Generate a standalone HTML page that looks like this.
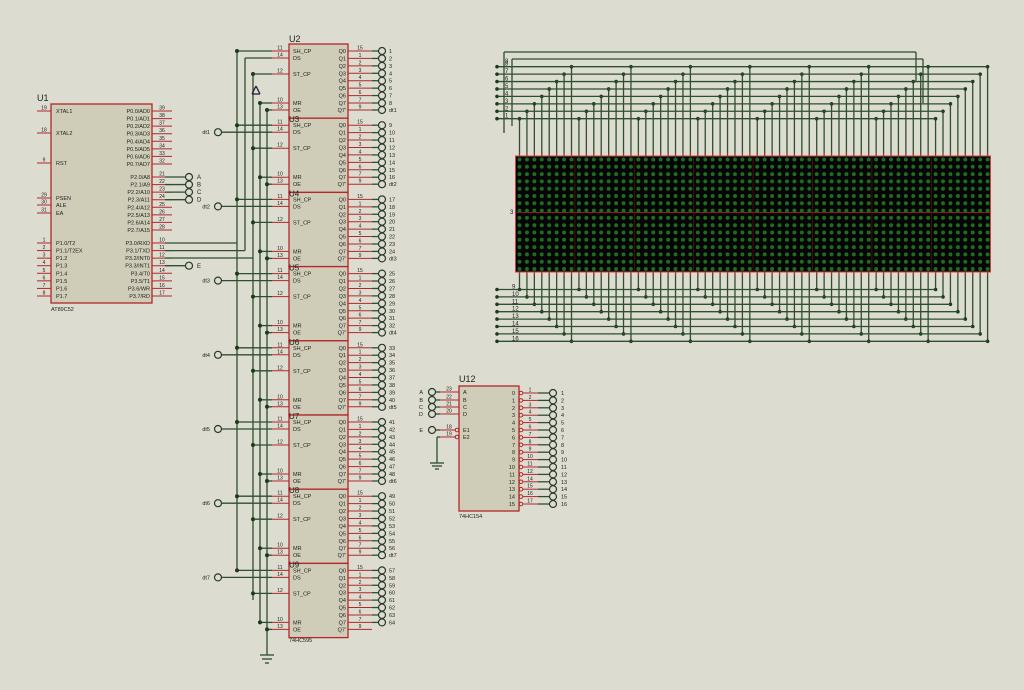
<!DOCTYPE html>
<html><head><meta charset="utf-8"><style>
html,body{margin:0;padding:0;background:#dddcd0;}
svg{display:block;font-family:"Liberation Sans",sans-serif;}
</style></head><body>
<svg id="s" width="1024" height="690" xmlns="http://www.w3.org/2000/svg"></svg>
<script>
var s=document.getElementById('s'),o='';
var W='#2d4f2d',R='#b3262a';
function L(x1,y1,x2,y2,c,w){o+='<line x1="'+x1+'" y1="'+y1+'" x2="'+x2+'" y2="'+y2+'" stroke="'+(c||W)+'" stroke-width="'+(w||1.3)+'"/>';}
function T(x,y,t,sz,a,c){o+='<text x="'+x+'" y="'+y+'" font-size="'+(sz||6)+'" fill="'+(c||'#222')+'"'+(a?' text-anchor="'+a+'"':'')+'>'+t+'</text>';}
function D(x,y,r,c){o+='<circle cx="'+x+'" cy="'+y+'" r="'+(r||2)+'" fill="'+(c||'#1c3a1c')+'"/>';}
function C(x,y){o+='<circle cx="'+x+'" cy="'+y+'" r="3.5" fill="none" stroke="#2a3a2a" stroke-width="1.2"/>';}
function B(x,y,w,h){o+='<rect x="'+x+'" y="'+y+'" width="'+w+'" height="'+h+'" fill="#cfcdb8" stroke="'+R+'" stroke-width="1.3"/>';}
// U1
B(51,104,101,199);T(37,101,'U1',9);T(51,311,'AT89C52',5.5);
var lp=[[111,19,'XTAL1'],[133,18,'XTAL2'],[163,9,'RST'],[198,29,'PSEN'],[205,30,'ALE'],[213,31,'EA']];
for(var i=0;i<8;i++)lp.push([243+i*7.57,i+1,['P1.0/T2','P1.1/T2EX','P1.2','P1.3','P1.4','P1.5','P1.6','P1.7'][i]]);
lp.forEach(function(p){L(37,p[0],51,p[0],R,1);T(44,p[0]-1.5,p[1],5,'middle');T(56,p[0]+2,p[2],5.5);});
var rp=[];
for(i=0;i<8;i++){rp.push([111+i*7.57,39-i,'P0.'+i+'/AD'+i]);rp.push([177+i*7.57,21+i,'P2.'+i+'/A'+(8+i)]);rp.push([243+i*7.57,10+i,['P3.0/RXD','P3.1/TXD','P3.2/INT0','P3.3/INT1','P3.4/T0','P3.5/T1','P3.6/WR','P3.7/RD'][i]]);}
rp.forEach(function(p){L(152,p[0],172,p[0],R,1);T(162,p[0]-1.5,p[1],5,'middle');T(150,p[0]+2,p[2],5.5,'end');});
['A','B','C','D'].forEach(function(n,i){var y=177+i*7.57;L(165,y,186,y);C(189,y);T(197,y+2,n,6);});
L(165,265.7,186,265.7);C(189,265.7);T(197,268,'E',6);
// bus from P3
L(165,243,237,243);L(237,51,237,570);
L(165,250.6,245,250.6);L(245,58,245,250.6);
L(165,258,253,258);L(253,74,253,600);
L(260,103,260,622);L(267,110,267,655);
L(260,655,274,655);L(262,659,272,659);L(265,663,269,663);
// U2 chips
var names=['U2','U3','U4','U5','U6','U7','U8','U9'];
for(var k=0;k<8;k++){
 var t=44+k*74.2;B(289,t,59,74.2);
 if(k==0)T(289,t-2,'U2',9);
 var pl=[[7,11,'SH_CP'],[14,14,'DS'],[30,12,'ST_CP'],[59,10,'MR'],[66,13,'OE']];
 pl.forEach(function(p){var y=t+p[0];L(272,y,289,y,R,1);T(280,y-1.5,p[1],5,'middle');T(293,y+2,p[2],5.5);});
 L(237,t+7,272,t+7);D(237,t+7);
 if(k==0){L(245,t+14,272,t+14);}else{L(222,t+14,272,t+14);C(218,t+14);T(210,t+16,'dt'+k,5.5,'end');}
 L(253,t+30,272,t+30);D(253,t+30);
 L(260,t+59,272,t+59);D(260,t+59);
 L(267,t+66,272,t+66);D(267,t+66);
 for(i=0;i<9;i++){var y=t+7+i*(i<8?7.43:7.4);if(i==8)y=t+66;
  L(348,y,372,y,R,1);T(360,y-1.5,[15,1,2,3,4,5,6,7,9][i],5,'middle');T(346,y+2,i<8?'Q'+i:"Q7'",5.5,'end');
  if(k==7&&i==8)continue;
  L(372,y,379,y);C(382,y);T(389,y+2,i<8?(k*8+i+1):'dt'+(k+1),5.5);}
 if(k>0)T(289,t+4,names[k],8);
}
T(289,642,'74HC595',5.5);
L(256,86,260,94,'#223');L(256,86,252,94,'#223');L(252,94,260,94,'#223');
// LED matrix
var X0=519.5,PX=7.43;
for(i=0;i<64;i++){var x=X0+i*PX,j=i%8;
 var yt=118.7-j*7.43;L(x,yt,x,156);D(x,yt,1.8);
 var yb=289.5+j*7.4;L(x,272,x,yb);D(x,yb,1.8);
 L(x,152,x,156,R,0.8);L(x,272,x,276,R,0.8);}
for(j=0;j<8;j++){var yt=118.7-j*7.43,xe=X0+(56+j)*PX;L(497,yt,xe,yt);D(497,yt,1.8);T(505,yt-1,j+1,6);
 var yb=289.5+j*7.4;L(497,yb,xe,yb);D(497,yb,1.8);T(512,yb-1,j+9,6);}
L(504,52,916,52);L(504,52,504,133);L(916,52,916,81);
L(512,59,923,59);L(512,59,512,126);L(923,59,923,103);
T(505,63,'8',6);
o+='<rect x="515.5" y="156" width="475" height="116" fill="#050505" stroke="#d04040" stroke-width="1"/>';
for(var r=0;r<16;r++)for(i=0;i<64;i++)D(X0+i*PX,159.5+r*7.3,2,'#1f6b1f');
L(515,212.5,990,212.5,'#8a2020',1);
for(i=1;i<8;i++)L(515.5+i*59.4,156,515.5+i*59.4,272,'#5a1010',0.8);
T(510,214,'3',6);
// U12
B(459,386,60,125);T(459,382,'U12',9);T(459,518,'74HC154',5.5);
[['A',23,392],['B',22,400],['C',21,407],['D',20,414]].forEach(function(p){L(440,p[2],459,p[2],R,1);L(436,p[2],440,p[2]);C(432,p[2]);T(423,p[2]+2,p[0],5.5,'end');T(449,p[2]-1.5,p[1],5,'middle');T(463,p[2]+2,p[0],5.5);});
[['E1',18,430],['E2',19,437]].forEach(function(p){L(440,p[2],456,p[2],R,1);o+='<circle cx="457" cy="'+p[2]+'" r="1.8" fill="none" stroke="'+R+'"/>';T(449,p[2]-1.5,p[1],5,'middle');T(463,p[2]+2,p[0],5.5);});
L(436,430,440,430);C(432,430);T(423,432,'E',5.5,'end');
L(437,437,440,437);L(437,437,437,463);L(430,463,444,463);L(432,466,442,466);L(435,469,439,469);
for(i=0;i<16;i++){var y=393+i*7.4;
 o+='<circle cx="521" cy="'+y+'" r="1.8" fill="none" stroke="'+R+'"/>';L(523,y,538,y,R,1);T(530,y-1.5,i+1+(i>=12?1:0)+(i>=0&&i>=12?0:0),5,'middle');
 T(515,y+2,i,5.5,'end');L(538,y,550,y);C(553,y);T(561,y+2,i+1,5.5);}
s.innerHTML=o;
</script>
</body></html>
